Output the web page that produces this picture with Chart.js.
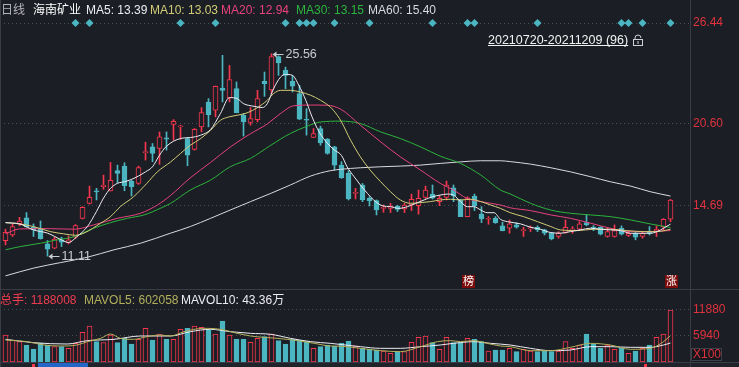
<!DOCTYPE html>
<html>
<head>
<meta charset="utf-8">
<script src="https://cdn.jsdelivr.net/npm/chart.js@4.4.0/dist/chart.umd.min.js"></script>
<style>
html, body { margin: 0; padding: 0; background: #1b1e24; overflow: hidden; }
#wrap { position: relative; width: 739px; height: 367px; }
canvas { position: absolute; left: 0; }
#priceChart { top: 0; width: 739px; height: 289px; }
#volChart { top: 289px; width: 739px; height: 78px; }
</style>
</head>
<body>
<div id="wrap">
  <canvas id="priceChart" width="739" height="289"></canvas>
  <canvas id="volChart" width="739" height="78"></canvas>
</div>
<script>
// ---- data ----
const stockName = '海南矿业';
const period = '20210720-20211209 (96)';
const priceTicks = [14.69, 20.60];
const priceTopLabel = '26.44';
const volTicks = [5940, 11880];
const volUnit = 'X100';

const opens = [12.22,12.62,13.41,13.84,13.17,13.10,11.98,11.67,12.27,12.08,12.46,13.81,14.88,15.78,16.07,15.76,17.21,17.54,16.47,16.30,18.49,18.92,18.80,19.56,
  20.51,20.34,19.51,18.73,20.34,22.12,21.53,23.12,22.41,23.07,21.17,20.65,20.86,23.59,22.98,25.37,24.38,23.59,22.71,20.89,19.58,20.22,19.46,18.92,
  17.61,17.02,15.59,16.19,15.24,15.07,14.52,14.52,14.69,14.48,14.76,14.71,15.31,15.54,15.00,15.31,15.99,15.12,13.93,15.40,14.12,13.74,13.81,13.27,
  13.10,13.34,12.93,13.05,13.17,12.98,12.74,12.51,12.81,12.98,13.03,13.50,13.19,13.17,12.51,12.51,13.10,12.58,12.74,12.51,12.86,12.91,13.22,13.74];
const highs = [13.03,13.41,13.88,14.22,13.41,13.62,12.22,12.46,12.46,12.55,13.36,14.64,16.11,15.95,16.90,17.80,17.61,17.78,16.54,17.54,19.25,19.15,19.98,19.98,
  20.86,20.46,19.58,20.22,21.72,22.36,23.26,25.45,24.73,23.55,21.29,21.72,22.95,24.26,25.56,25.42,24.61,24.02,23.31,21.65,20.22,20.39,19.51,18.96,
  17.85,17.21,15.95,16.30,15.35,15.12,14.76,14.88,14.74,14.88,15.54,15.83,16.11,16.19,15.43,16.47,16.19,15.16,15.35,15.54,14.64,13.93,13.93,13.53,
  13.69,13.50,13.17,13.27,13.27,13.03,12.79,12.86,13.69,13.22,13.57,14.05,13.29,13.22,13.10,13.34,13.27,12.84,12.79,12.84,13.22,13.27,13.79,15.16];
const lows = [11.91,12.51,13.27,13.17,12.51,12.32,11.11,11.63,11.79,11.98,12.36,13.76,14.83,15.12,15.88,15.76,16.35,15.78,15.40,16.23,17.97,17.85,17.66,18.68,
  19.39,19.44,17.56,18.68,19.98,20.34,21.05,22.12,22.12,21.34,19.68,20.46,20.70,22.52,22.71,24.02,23.07,22.83,20.86,19.75,19.58,19.03,18.39,17.25,
  16.66,15.12,15.19,15.00,14.69,14.05,14.24,14.22,14.29,14.22,14.36,14.10,15.24,15.19,14.71,15.12,15.00,13.93,13.91,14.36,13.50,13.38,13.45,12.91,
  12.74,13.10,12.51,12.86,12.86,12.62,12.27,12.39,12.74,12.74,12.93,13.27,12.93,12.62,12.46,12.46,12.62,12.51,12.27,12.39,12.62,12.51,12.98,13.57];
const closes = [12.81,13.22,13.62,13.22,12.98,12.36,11.60,12.32,12.10,12.27,13.29,14.60,15.31,15.69,16.19,16.52,17.02,16.14,16.07,17.44,18.58,18.44,19.63,19.46,
  20.74,20.39,18.32,20.17,21.36,21.22,23.24,22.95,23.71,21.36,20.70,20.93,22.36,23.43,25.37,24.90,24.02,23.24,20.89,20.82,19.87,19.20,18.44,17.61,
  16.71,15.19,15.66,15.12,15.05,14.41,14.60,14.69,14.45,14.76,15.16,15.24,15.83,15.24,15.24,16.19,15.40,13.93,15.28,14.69,13.76,13.81,13.50,12.93,
  13.41,13.17,12.98,13.12,12.98,12.74,12.34,12.74,13.17,13.05,13.41,13.34,13.10,12.67,12.86,12.93,12.67,12.74,12.46,12.74,12.74,13.03,13.74,15.12];
// volume, in hundreds of shares
const volumes = [6168,5026,4645,3884,2970,4265,3884,3503,3503,3122,4265,6777,8224,4645,4417,6168,4417,5407,4112,5178,7691,5026,6397,5178,
  5178,7463,7691,8224,7920,7310,6397,9366,6168,5178,5178,4493,5407,5787,6397,4874,4112,5178,5026,4645,3122,3503,3884,3655,
  4265,4797,3655,3122,2970,2741,2513,1980,2361,2361,4493,5635,5940,4417,2894,5635,4417,4417,5407,5178,4645,2513,2741,2741,
  3122,2361,2894,2513,2361,2513,2361,2513,4645,3122,3884,6397,4112,3122,3884,2894,3122,1980,2513,3122,3884,5635,6397,11880];

// moving averages: [candle index, value]
const ma5 = [[0,13.50],[2,13.41],[4,12.98],[6,12.75],[8,12.27],[9,12.08],[10.2,12.50],[11.7,13.22],[13,14.30],[14,15.25],[15,15.95],[16,16.31],[17,16.42],[18,16.59],[19,16.83],[20,17.13],[21,17.49],[22,18.32],[23,18.96],[25,19.51],[26.4,19.58],[27.9,19.75],[29.3,20.15],[30.7,21.29],[32,22.43],[33.1,22.36],[34,22.00],[35.5,21.81],[36.7,21.72],[37.4,22.00],[38.3,23.07],[39.3,23.90],[40,24.09],[41,24.02],[41.9,23.31],[42.9,22.24],[43.8,21.05],[44.8,19.98],[46,19.16],[47,18.68],[48,18.30],[48.8,17.49],[49.8,16.78],[50.7,16.19],[51.7,15.59],[52.6,15.12],[53.8,14.71],[55,14.64],[56.2,14.52],[57.4,14.64],[58.6,14.88],[59.8,15.12],[61,15.35],[62.1,15.47],[63.1,15.54],[64,15.47],[65,15.00],[66,14.64],[66.9,14.64],[67.9,14.40],[68.8,14.21],[69.8,14.21],[70.7,13.74],[71.7,13.57],[73.6,13.41],[75,13.17],[76.4,13.03],[77.9,12.79],[79.3,12.75],[80.7,12.86],[82.1,12.98],[83.6,13.10],[85,13.03],[86.4,12.98],[87.9,12.93],[89.3,12.74],[90.7,12.74],[92.1,12.74],[93.1,12.86],[94,13.10],[95,13.39]];
const ma10 = [[0,13.50],[2,13.41],[4,13.22],[6.4,12.86],[8.3,12.70],[10,12.60],[11.2,12.75],[13.6,13.46],[15,13.93],[16.4,14.64],[18.3,15.35],[20.2,16.31],[21.7,17.13],[23.6,17.84],[25,18.44],[26.4,19.03],[27.9,19.51],[29.3,20.10],[30.7,20.81],[31.9,21.05],[33.1,21.17],[34.5,21.34],[36,21.72],[37.4,22.24],[38.3,22.72],[39.3,22.95],[40.7,22.95],[42.1,22.83],[43.6,22.60],[45,22.24],[46.4,21.76],[47.4,21.17],[48,20.69],[49.3,19.39],[50.7,18.20],[52.1,17.25],[53.6,16.42],[55,15.71],[56.4,15.12],[57.9,14.88],[59.3,14.93],[60.7,15.00],[62.1,15.12],[63.6,15.17],[65,15.12],[66.4,15.17],[67.9,15.00],[69.3,14.76],[70.7,14.52],[72.1,14.21],[74,13.93],[76,13.57],[77.9,13.22],[79.3,12.98],[81.7,12.93],[84,13.03],[86.4,13.03],[88.8,12.93],[91.2,12.86],[93.1,12.86],[95,13.03]];
const ma20 = [[0,12.70],[2,13.05],[6.4,13.07],[9.8,13.03],[12.6,13.34],[16,13.81],[19.3,14.17],[21.7,14.76],[23.6,15.45],[26.4,16.70],[29.3,17.80],[32.1,18.90],[35,19.85],[37.4,20.55],[39.3,21.30],[41.2,21.85],[43.6,21.90],[46,21.88],[47.9,21.60],[50.7,20.46],[53.6,19.27],[56.4,18.20],[59.3,17.25],[62.1,16.31],[64,15.83],[65.9,15.24],[67.9,15.00],[70.7,14.76],[72.1,14.56],[75,14.36],[77.9,14.05],[80.7,13.81],[83.6,13.46],[86.4,13.10],[89.3,12.86],[92.1,12.86],[95,12.94]];
const ma30 = [[0,11.56],[2.1,11.79],[5,12.03],[7.4,12.27],[9.8,12.50],[12.6,13.10],[15,13.50],[17.4,13.81],[19.8,14.05],[22.1,14.52],[23.6,14.88],[26.4,15.83],[29.3,16.54],[32.1,17.49],[35,18.09],[37.9,19.03],[40.7,19.87],[43.1,20.39],[45,20.69],[47.9,20.75],[50.7,20.58],[53.6,19.98],[56.4,19.51],[59.3,18.91],[62.1,18.25],[65,17.73],[67.9,16.90],[70.7,15.83],[72.1,15.55],[75,14.88],[77.9,14.40],[80.7,14.17],[83.6,14.05],[86.4,13.93],[89.3,13.69],[92.1,13.41],[95,13.15]];
const ma60 = [[0,9.70],[4,10.25],[7.9,10.65],[11.7,11.03],[15.5,11.56],[19.3,12.03],[23.6,12.75],[26.4,13.22],[29.3,13.81],[32.1,14.40],[35,15.00],[37.9,15.59],[40.7,16.19],[43.6,16.83],[46.4,17.21],[47.9,17.31],[50.7,17.42],[53.6,17.49],[56.4,17.54],[59.3,17.61],[62.1,17.73],[65,17.84],[67.9,17.92],[70.7,17.92],[72.1,17.86],[75,17.68],[77.9,17.42],[80.7,17.13],[83.6,16.78],[86.4,16.42],[89.3,16.11],[92.1,15.71],[95,15.40]];
const mavol5 = [[0,5026],[3.1,4645],[5.5,3884],[7.9,3655],[10.2,3884],[11.7,4645],[13.6,5407],[15,6397],[16.4,5407],[18.3,5178],[20.2,5787],[22.1,6168],[23.6,5940],[25.5,6930],[28.3,7691],[30.7,7463],[33.1,6549],[35,5940],[36.9,5635],[38.8,5407],[41.7,4874],[44.1,4265],[46.4,3655],[47.9,3600],[50.7,3122],[53.6,2589],[56.4,2361],[59.3,3503],[61.7,4645],[63.6,4874],[65,4645],[66.9,4874],[68.8,4265],[70.7,3655],[72.1,3503],[75,2589],[77.9,2589],[80.7,3351],[83.6,4265],[86.4,3884],[89.3,2894],[92.1,3122],[94,4645],[95,6020]];
const mavol10 = [[0,5178],[4,4417],[8.8,4112],[11.7,4874],[15.5,5178],[19.3,5940],[23.6,5940],[26.4,6930],[29.3,7463],[32.1,6930],[35,6549],[37.9,6321],[40.7,5407],[43.6,4645],[46.4,4265],[47.9,4000],[50.7,3503],[53.6,3122],[56.4,3122],[59.3,3503],[62.1,3884],[64,4265],[66.9,4645],[69.3,4265],[72.1,3884],[75,3122],[77.9,2589],[80.7,2741],[83.6,3503],[86.4,3503],[89.3,3351],[92.1,3351],[94,3884],[95,4336]];
const maNames = ['MA5', 'MA10', 'MA20', 'MA30', 'MA60'];
const totalHands = 1188008;
const mavol5Label = '602058';
const mavol10Label = '43.36万';

// info markers on the top line, and badges at the bottom of the price pane
const markerIdx = [10,12,25,30,40,42,43,44,47,52,61,66,67,76,88,89,91,95];
const badgeIdx = [66, 95];
const badgeText = ['榜', '涨'];

// ---- style ----
const FONT = "'Liberation Sans', Arial, 'Noto Sans CJK SC', sans-serif";
const BG = '#1b1e24', RED = '#f5364d', CYAN = '#4bb6c1', GRID = '#4a4e57', FRAME = '#3a3d45', AXIS_RED = '#e0323e';
const MA_COLORS = ['#ececf2', '#d2cc78', '#e8427c', '#2cb43e', '#d9d9de'];
const VOL_COLORS = ['#b3b05c', '#ececf2'];
const X_MIN = -5.5 / 7, X_MAX = X_MIN + 690 / 7;   // 7 px per candle, plot 690 px wide
const PRICE_MIN = 8.76, PRICE_MAX = 27.76;
const VOL_MAX = 13479;

Chart.defaults.font.family = FONT;

const up = closes.map((c, i) => c >= opens[i]);
const candleColor = up.map(u => u ? RED : CYAN);
const hollowFill = up.map(u => u ? BG : CYAN);
const toPts = arr => arr.map(([i, v]) => ({x: i, y: v}));

function yAxis(min, max, ticks, label) {
    return {
        position: 'right', min: min, max: max, beginAtZero: false,
        afterBuildTicks: s => { s.ticks = ticks.map(v => ({value: v})); },
        afterFit: s => { s.width = 49; s.paddingTop = 0; s.paddingBottom = 0; },
        ticks: { color: AXIS_RED, font: {size: 12, family: FONT}, padding: 3, callback: label },
        grid: { color: GRID, drawTicks: false, lineWidth: 1 },
        border: { display: false, dash: [1, 3] }
    };
}

function line(c, x1, y1, x2, y2) {
    c.beginPath(); c.moveTo(x1, y1); c.lineTo(x2, y2); c.stroke();
}

function tag(c, px, py, text) {
    c.strokeStyle = '#c8ccd0'; c.fillStyle = '#c8ccd0'; c.lineWidth = 1;
    line(c, px + 3, Math.round(py) + 0.5, px + 12, Math.round(py) + 0.5);
    c.beginPath();
    c.moveTo(px + 1, Math.round(py) + 0.5);
    c.lineTo(px + 5, Math.round(py) - 2.5);
    c.lineTo(px + 5, Math.round(py) + 3.5);
    c.closePath(); c.fill();
    c.font = '12.5px ' + FONT; c.textBaseline = 'middle'; c.textAlign = 'left';
    c.fillText(text, px + 14, py + 0.5);
}

const priceDecor = {
    id: 'priceDecor',
    beforeDraw(chart) {
        const c = chart.ctx;
        c.save(); c.fillStyle = BG; c.fillRect(0, 0, chart.width, chart.height); c.restore();
    },
    afterDraw(chart) {
        const c = chart.ctx, a = chart.chartArea, x = chart.scales.x, y = chart.scales.y;
        c.save();
        c.strokeStyle = FRAME; c.lineWidth = 1;
        line(c, a.right + 0.5, 0, a.right + 0.5, chart.height);
        line(c, 0.5, 0, 0.5, chart.height);

        // legend
        c.font = '12px ' + FONT; c.textBaseline = 'middle'; c.textAlign = 'left';
        c.fillStyle = '#b4b4b8'; c.fillText('日线', 1, 11);
        c.fillStyle = '#ffffff'; c.fillText(stockName, 33, 11);
        const mas = [ma5, ma10, ma20, ma30, ma60];
        const xs = [86, 150, 221, 296, 368];
        mas.forEach((m, k) => {
            c.fillStyle = MA_COLORS[k];
            c.fillText(maNames[k] + ': ' + m[m.length - 1][1].toFixed(2), xs[k], 11);
        });

        // period label + lock
        c.font = '12.5px ' + FONT; c.fillStyle = '#f2f2f2'; c.textBaseline = 'alphabetic';
        c.fillText(period, 488, 43.5);
        const w = c.measureText(period).width;
        c.fillRect(488, 45, w, 1);
        c.strokeStyle = '#cfcfd4';
        c.strokeRect(633.5, 39.5, 9, 6);
        c.beginPath(); c.arc(638, 38, 3, Math.PI, 2 * Math.PI); c.stroke();
        line(c, 635, 38, 635, 39.5);
        c.fillStyle = '#cfcfd4'; c.fillRect(637.5, 41, 1, 3);

        // highest / lowest tags
        const hi = highs.indexOf(Math.max(...highs));
        const lo = lows.indexOf(Math.min(...lows));
        tag(c, x.getPixelForValue(hi), y.getPixelForValue(highs[hi]), highs[hi].toFixed(2));
        tag(c, x.getPixelForValue(lo), y.getPixelForValue(lows[lo]), lows[lo].toFixed(2));

        // badges
        badgeIdx.forEach((i, k) => {
            const cx = Math.round(x.getPixelForValue(i));
            c.fillStyle = '#7d0b0b'; c.fillRect(cx - 6, 275, 13, 13);
            c.fillStyle = '#ffffff'; c.font = '11px ' + FONT;
            c.textAlign = 'center'; c.textBaseline = 'middle';
            c.fillText(badgeText[k], cx + 0.5, 282);
        });
        c.restore();
    }
};

new Chart(document.getElementById('priceChart'), {
    type: 'bar',
    data: {
        datasets: [
            ...[ma5, ma10, ma20, ma30, ma60].map((d, k) => ({
                type: 'line', label: maNames[k], data: toPts(d), borderColor: MA_COLORS[k],
                borderWidth: 1, pointRadius: 0, cubicInterpolationMode: 'monotone', order: 0
            })),
            {
                type: 'line', label: 'markers', data: markerIdx.map(i => ({x: i, y: PRICE_MAX})),
                showLine: false, pointStyle: 'rectRot', pointRadius: 4, pointBorderWidth: 0,
                pointBackgroundColor: CYAN, clip: false, order: 0
            },
            {
                label: 'body', data: opens.map((o, i) => ({x: i, y: [o, closes[i]]})),
                backgroundColor: hollowFill, borderColor: candleColor, borderWidth: 1,
                borderSkipped: false, barThickness: 5, minBarLength: 1, grouped: false, order: 1
            },
            {
                label: 'wick', data: highs.map((h, i) => ({x: i, y: [lows[i], h]})),
                backgroundColor: candleColor, borderWidth: 0, barThickness: 1, grouped: false, order: 2
            }
        ]
    },
    options: {
        responsive: false, animation: false, events: [],
        layout: { padding: {top: 23, right: 0, bottom: 0, left: 0}, autoPadding: false },
        plugins: { legend: {display: false}, tooltip: {enabled: false} },
        scales: {
            x: { type: 'linear', min: X_MIN, max: X_MAX, offset: false, display: false, grid: {display: false} },
            y: yAxis(PRICE_MIN, PRICE_MAX, [...priceTicks, PRICE_MAX],
                v => Math.abs(v - PRICE_MAX) < 1e-6 ? priceTopLabel : v.toFixed(2))
        }
    },
    plugins: [priceDecor]
});

const volDecor = {
    id: 'volDecor',
    beforeDraw(chart) {
        const c = chart.ctx;
        c.save(); c.fillStyle = BG; c.fillRect(0, 0, chart.width, chart.height); c.restore();
    },
    afterDraw(chart) {
        const c = chart.ctx, a = chart.chartArea;
        c.save();
        c.fillStyle = '#202329'; c.fillRect(0, a.bottom + 1, chart.width, chart.height - a.bottom);
        c.strokeStyle = FRAME; c.lineWidth = 1;
        line(c, 0, 0.5, chart.width, 0.5);
        line(c, 0, a.bottom + 0.5, chart.width, a.bottom + 0.5);
        line(c, a.right + 0.5, 0, a.right + 0.5, chart.height);
        line(c, 0.5, 0, 0.5, chart.height);
        // scroll bar
        c.fillStyle = '#2366c8'; c.fillRect(38, a.bottom + 1, 50, chart.height - a.bottom);
        c.fillStyle = RED; c.fillRect(32, a.bottom + 2, 3, 3); c.fillRect(644, a.bottom + 2, 3, 3);

        // legend
        c.font = '12px ' + FONT; c.textBaseline = 'middle'; c.textAlign = 'left';
        c.fillStyle = '#f03c50'; c.fillText('总手: ' + totalHands, 0, 12);
        c.fillStyle = VOL_COLORS[0]; c.fillText('MAVOL5: ' + mavol5Label, 84, 12);
        c.fillStyle = VOL_COLORS[1]; c.fillText('MAVOL10: ' + mavol10Label, 181, 12);

        // unit box
        c.fillStyle = '#15171c'; c.fillRect(691, 59, 31, 13);
        c.strokeStyle = '#3e4149'; c.strokeRect(691.5, 59.5, 30, 12);
        c.fillStyle = AXIS_RED; c.fillText(volUnit, 693, 66);
        c.restore();
    }
};

new Chart(document.getElementById('volChart'), {
    type: 'bar',
    data: {
        datasets: [
            {
                type: 'line', label: 'MAVOL5', data: toPts(mavol5), borderColor: VOL_COLORS[0],
                borderWidth: 1, pointRadius: 0, cubicInterpolationMode: 'monotone', order: 0
            },
            {
                type: 'line', label: 'MAVOL10', data: toPts(mavol10), borderColor: VOL_COLORS[1],
                borderWidth: 1, pointRadius: 0, cubicInterpolationMode: 'monotone', order: 0
            },
            {
                label: 'volume', data: volumes.map((v, i) => ({x: i, y: v})),
                backgroundColor: hollowFill, borderColor: candleColor, borderWidth: 1,
                borderSkipped: false, barThickness: 5, grouped: false, order: 1
            }
        ]
    },
    options: {
        responsive: false, animation: false, events: [],
        layout: { padding: {top: 14, right: 0, bottom: 5, left: 0}, autoPadding: false },
        plugins: { legend: {display: false}, tooltip: {enabled: false} },
        scales: {
            x: { type: 'linear', min: X_MIN, max: X_MAX, offset: false, display: false, grid: {display: false} },
            y: yAxis(0, VOL_MAX, volTicks, v => String(v))
        }
    },
    plugins: [volDecor]
});
</script>
</body>
</html>
